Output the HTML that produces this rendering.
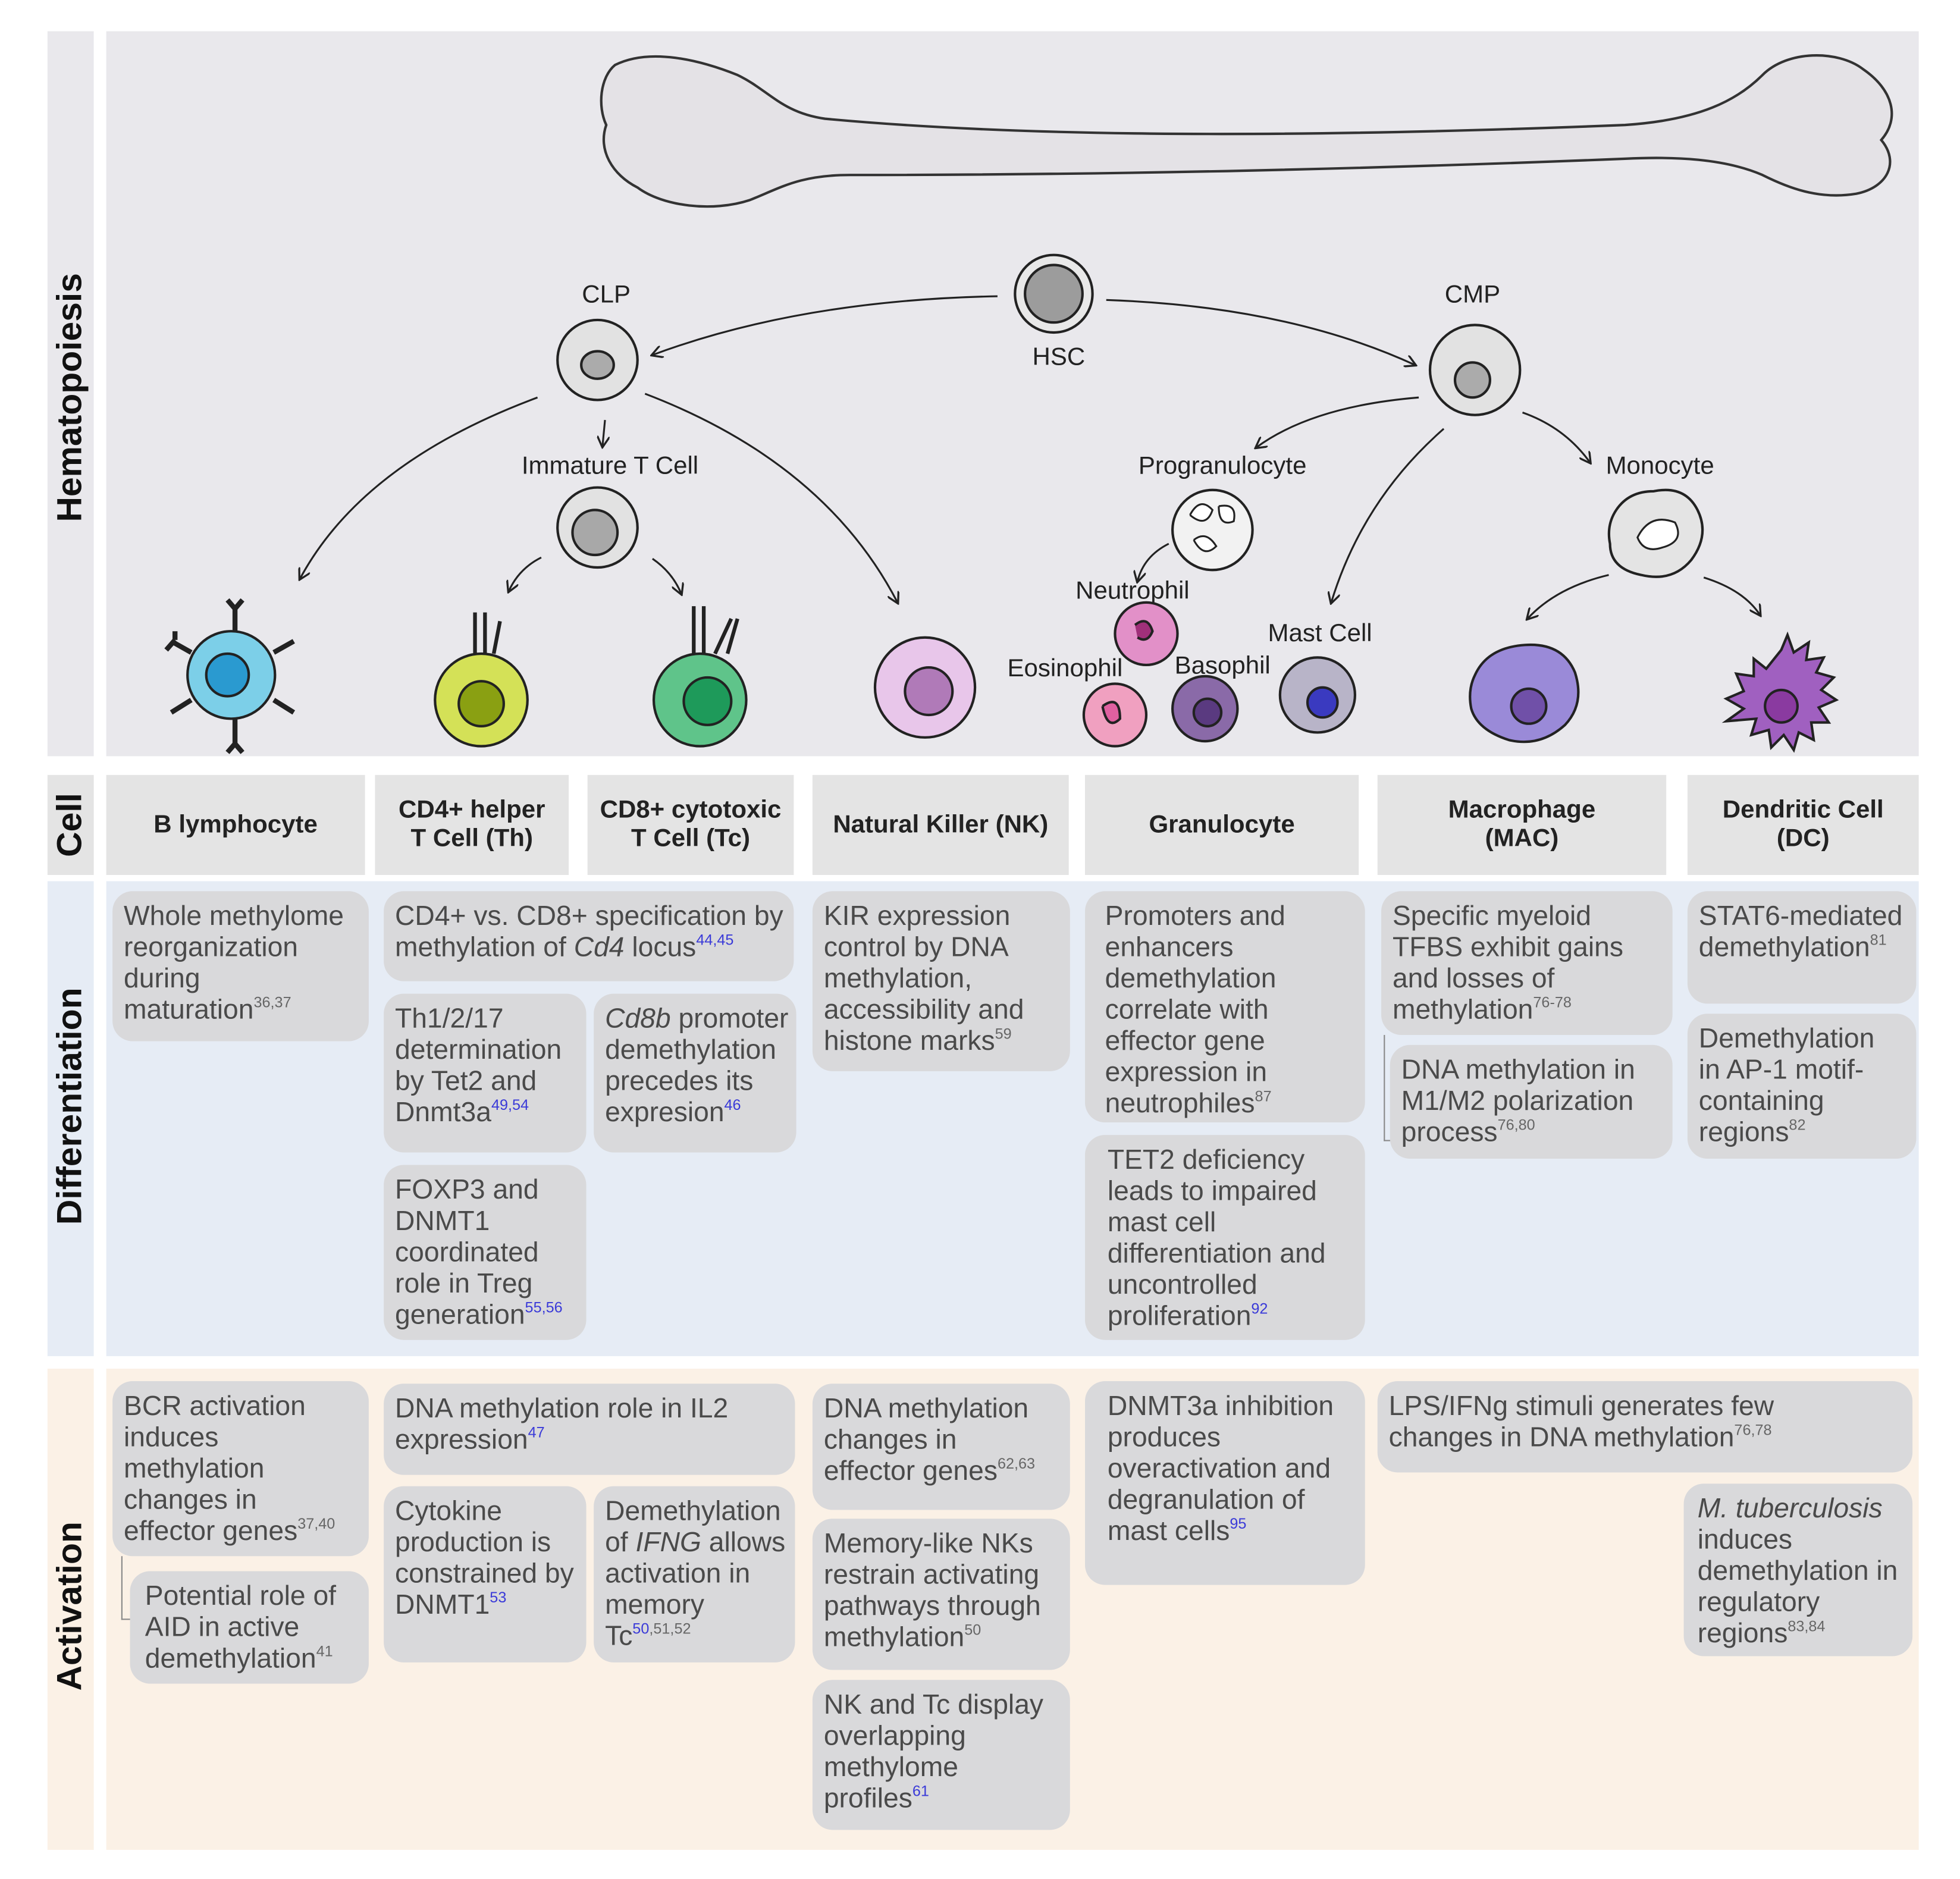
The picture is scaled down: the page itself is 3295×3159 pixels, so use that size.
<!DOCTYPE html>
<html><head><meta charset="utf-8">
<style>
html,body{margin:0;padding:0;background:#fff;}
body{width:3295px;height:3159px;overflow:hidden;position:relative;}
#s{position:absolute;left:0;top:0;width:1568px;height:1503px;transform:scale(2.1014);transform-origin:0 0;font-family:"Liberation Sans",sans-serif;}
.bg{position:absolute;}
.b{position:absolute;background:#d9d9db;border-radius:16px;box-sizing:border-box;padding:7px 9px;font-size:22px;line-height:25px;color:#4a4a4a;white-space:nowrap;}
.b sup{font-size:12px;line-height:0;vertical-align:9px;color:#666;}
.b sup.u{color:#3a3ad8;}
.h{position:absolute;background:#e4e4e4;display:flex;align-items:center;justify-content:center;text-align:center;font-weight:bold;font-size:20px;line-height:23px;color:#222;}
.v{position:absolute;transform:rotate(-90deg);transform-origin:center;font-weight:bold;font-size:28px;color:#111;white-space:nowrap;text-align:center;width:400px;height:36px;line-height:36px;}
.ln{position:absolute;border-left:1.5px solid #888;border-bottom:1.5px solid #888;}
</style></head><body><div id="s">
<!-- backgrounds -->
<div class="bg" style="left:38px;top:25px;width:37px;height:580px;background:#e9e8ec"></div>
<div class="bg" style="left:85px;top:25px;width:1450px;height:580px;background:#e9e8ec"></div>
<div class="bg" style="left:38px;top:620px;width:37px;height:80px;background:#e4e4e4"></div>
<div class="bg" style="left:38px;top:705px;width:37px;height:380px;background:#e6ecf5"></div>
<div class="bg" style="left:85px;top:705px;width:1450px;height:380px;background:#e6ecf5"></div>
<div class="bg" style="left:38px;top:1095px;width:37px;height:385px;background:#fbf1e6"></div>
<div class="bg" style="left:85px;top:1095px;width:1450px;height:385px;background:#fbf1e6"></div>

<div class="v" style="left:-144px;top:300px">Hematopoiesis</div>
<div class="v" style="left:-144px;top:642px">Cell</div>
<div class="v" style="left:-144px;top:867px">Differentiation</div>
<div class="v" style="left:-144px;top:1267px">Activation</div>

<!-- headers -->
<div class="h" style="left:85px;top:620px;width:207px;height:80px">B lymphocyte</div>
<div class="h" style="left:300px;top:620px;width:155px;height:80px">CD4+ helper<br>T Cell (Th)</div>
<div class="h" style="left:470px;top:620px;width:165px;height:80px">CD8+ cytotoxic<br>T Cell (Tc)</div>
<div class="h" style="left:650px;top:620px;width:205px;height:80px">Natural Killer (NK)</div>
<div class="h" style="left:868px;top:620px;width:219px;height:80px">Granulocyte</div>
<div class="h" style="left:1102px;top:620px;width:231px;height:80px">Macrophage<br>(MAC)</div>
<div class="h" style="left:1350px;top:620px;width:185px;height:80px">Dendritic Cell<br>(DC)</div>

<!-- differentiation -->
<div class="b" style="left:90px;top:713px;width:205px;height:120px">Whole methylome<br>reorganization<br>during<br>maturation<sup>36,37</sup></div>
<div class="b" style="left:307px;top:713px;width:328px;height:72px">CD4+ vs. CD8+ specification by<br>methylation of <i>Cd4</i> locus<sup class="u">44,45</sup></div>
<div class="b" style="left:307px;top:795px;width:162px;height:127px">Th1/2/17<br>determination<br>by Tet2 and<br>Dnmt3a<sup class="u">49,54</sup></div>
<div class="b" style="left:475px;top:795px;width:162px;height:127px"><i>Cd8b</i> promoter<br>demethylation<br>precedes its<br>expresion<sup class="u">46</sup></div>
<div class="b" style="left:307px;top:932px;width:162px;height:140px">FOXP3 and<br>DNMT1<br>coordinated<br>role in Treg<br>generation<sup class="u">55,56</sup></div>
<div class="b" style="left:650px;top:713px;width:206px;height:144px">KIR expression<br>control by DNA<br>methylation,<br>accessibility and<br>histone marks<sup>59</sup></div>
<div class="b" style="left:868px;top:713px;width:224px;height:185px;padding-left:16px">Promoters and<br>enhancers<br>demethylation<br>correlate with<br>effector gene<br>expression in<br>neutrophiles<sup>87</sup></div>
<div class="b" style="left:868px;top:908px;width:224px;height:164px;padding-left:18px">TET2 deficiency<br>leads to impaired<br>mast cell<br>differentiation and<br>uncontrolled<br>proliferation<sup class="u">92</sup></div>
<div class="b" style="left:1105px;top:713px;width:233px;height:115px">Specific myeloid<br>TFBS exhibit gains<br>and losses of<br>methylation<sup>76-78</sup></div>
<div class="ln" style="left:1107px;top:828px;width:8px;height:84px"></div>
<div class="b" style="left:1112px;top:836px;width:226px;height:91px">DNA methylation in<br>M1/M2 polarization<br>process<sup>76,80</sup></div>
<div class="b" style="left:1350px;top:713px;width:183px;height:90px">STAT6-mediated<br>demethylation<sup>81</sup></div>
<div class="b" style="left:1350px;top:811px;width:183px;height:116px">Demethylation<br>in AP-1 motif-<br>containing<br>regions<sup>82</sup></div>

<!-- activation -->
<div class="b" style="left:90px;top:1105px;width:205px;height:140px">BCR activation<br>induces<br>methylation<br>changes in<br>effector genes<sup>37,40</sup></div>
<div class="ln" style="left:97px;top:1245px;width:9px;height:50px"></div>
<div class="b" style="left:104px;top:1257px;width:191px;height:90px;padding-left:12px">Potential role of<br>AID in active<br>demethylation<sup>41</sup></div>
<div class="b" style="left:307px;top:1107px;width:329px;height:73px">DNA methylation role in IL2<br>expression<sup class="u">47</sup></div>
<div class="b" style="left:307px;top:1189px;width:162px;height:141px">Cytokine<br>production is<br>constrained by<br>DNMT1<sup class="u">53</sup></div>
<div class="b" style="left:475px;top:1189px;width:161px;height:141px">Demethylation<br>of <i>IFNG</i> allows<br>activation in<br>memory<br>Tc<sup><span style="color:#3a3ad8">50</span>,51,52</sup></div>
<div class="b" style="left:650px;top:1107px;width:206px;height:101px">DNA methylation<br>changes in<br>effector genes<sup>62,63</sup></div>
<div class="b" style="left:650px;top:1215px;width:206px;height:121px">Memory-like NKs<br>restrain activating<br>pathways through<br>methylation<sup>50</sup></div>
<div class="b" style="left:650px;top:1344px;width:206px;height:120px">NK and Tc display<br>overlapping<br>methylome<br>profiles<sup class="u">61</sup></div>
<div class="b" style="left:868px;top:1105px;width:224px;height:163px;padding-left:18px">DNMT3a inhibition<br>produces<br>overactivation and<br>degranulation of<br>mast cells<sup class="u">95</sup></div>
<div class="b" style="left:1102px;top:1105px;width:428px;height:73px">LPS/IFNg stimuli generates few<br>changes in DNA methylation<sup>76,78</sup></div>
<div class="b" style="left:1347px;top:1187px;width:183px;height:138px;padding-left:11px"><i>M. tuberculosis</i><br>induces<br>demethylation in<br>regulatory<br>regions<sup>83,84</sup></div>

<svg style="position:absolute;left:0;top:0" width="1568" height="1503" viewBox="0 0 1568 1503">
<defs><marker id="a" markerWidth="10" markerHeight="10" refX="8" refY="5" orient="auto" markerUnits="userSpaceOnUse"><path d="M0,0 L9,5 L0,10" fill="none" stroke="#222" stroke-width="1.6"/></marker></defs>
<!-- bone -->
<path d="M492,52 C520,38 560,48 590,60 C615,72 625,90 660,95 C800,108 1000,112 1300,100 C1360,96 1390,80 1410,60 C1430,40 1470,40 1490,55 C1515,72 1520,95 1505,112 C1520,130 1510,150 1485,155 C1455,160 1430,150 1410,140 C1380,127 1340,125 1300,127 C1100,135 900,140 680,140 C640,140 625,150 600,160 C570,170 530,165 510,150 C490,140 478,120 485,100 C478,85 480,62 492,52 Z" fill="#e4e2e6" stroke="#333" stroke-width="2"/>
<g fill="none" stroke="#222" stroke-width="1.5" marker-end="url(#a)">
<path d="M798,237 Q640,240 522,284"/>
<path d="M885,240 Q1030,245 1132,292"/>
<path d="M430,318 Q290,370 240,463"/>
<path d="M484,336 L482,357"/>
<path d="M516,315 Q660,370 718,482"/>
<path d="M433,446 Q415,455 407,473"/>
<path d="M522,447 Q538,458 545,475"/>
<path d="M1135,318 Q1050,325 1005,358"/>
<path d="M1155,343 Q1090,400 1065,482"/>
<path d="M1218,330 Q1252,342 1272,370"/>
<path d="M935,435 Q915,445 910,465"/>
<path d="M1287,460 Q1245,470 1222,495"/>
<path d="M1363,462 Q1395,472 1408,492"/>
</g>
<g font-family="Liberation Sans,sans-serif" font-size="20" fill="#222" text-anchor="middle">
<text x="485" y="242">CLP</text><text x="847" y="292">HSC</text><text x="1178" y="242">CMP</text>
<text x="488" y="379">Immature T Cell</text><text x="978" y="379">Progranulocyte</text><text x="1328" y="379">Monocyte</text>
<text x="906" y="479">Neutrophil</text><text x="852" y="541">Eosinophil</text><text x="978" y="539">Basophil</text><text x="1056" y="513">Mast Cell</text>
</g>
<g stroke="#222" stroke-width="2">
<circle cx="843" cy="235" r="31" fill="#e8e8e8"/><circle cx="843" cy="235" r="23" fill="#9c9c9c"/>
<circle cx="478" cy="288" r="32" fill="#e2e2e2"/><ellipse cx="478" cy="292" rx="13" ry="11" fill="#ababab"/>
<circle cx="1180" cy="296" r="36" fill="#e2e2e2"/><circle cx="1178" cy="304" r="14" fill="#ababab"/>
<circle cx="478" cy="422" r="32" fill="#e2e2e2"/><circle cx="476" cy="426" r="18" fill="#a8a8a8"/>
<circle cx="970" cy="424" r="32" fill="#f2f2f2"/><path d="M952,412 q8,-15 18,-4 q-5,15 -18,4 M975,405 q15,-3 12,12 q-12,5 -12,-12 M955,432 q10,-8 18,5 q-10,10 -18,-5" fill="#fff" stroke-width="1.5"/>
<path d="M1293,408 q10,-15 30,-15 q25,-5 35,15 q10,20 -5,40 q-15,18 -40,12 q-25,-5 -25,-25 q-3,-15 5,-27 Z" fill="#e4e4e4"/><path d="M1310,430 q10,-20 30,-12 q8,15 -10,20 q-15,5 -20,-8Z" fill="#fff" stroke-width="1.5"/>
<circle cx="185" cy="540" r="35" fill="#7ccfe8"/><circle cx="182" cy="540" r="17" fill="#2a9ad0"/>
<g stroke-width="4" fill="none"><path d="M188,505 V485 M182,480 L188,487 L194,480"/><path d="M188,575 V597 M182,602 L188,595 L194,602"/><path d="M153,522 L137,513 M133,520 L140,512 M140,505 L140,512"/><path d="M219,522 L235,513"/><path d="M153,560 L137,570"/><path d="M219,560 L235,570"/></g>
<circle cx="385" cy="560" r="37" fill="#d4e157"/><circle cx="385" cy="563" r="18" fill="#8aa012"/>
<path d="M380,523 V490 M388,523 V490 M395,523 L400,497" stroke-width="3"/>
<circle cx="560" cy="560" r="37" fill="#5fc48a"/><circle cx="566" cy="561" r="19" fill="#1e9a5a"/>
<path d="M555,523 V485 M563,523 V485 M572,523 L585,495 M582,523 L590,495" stroke-width="3"/>
<circle cx="740" cy="550" r="40" fill="#e8c6ea"/><circle cx="743" cy="553" r="19" fill="#b07ab8"/>
<circle cx="917" cy="507" r="25" fill="#e290c8"/><path d="M908,500 q10,-8 14,5 q-4,10 -12,5" fill="#a0307a"/>
<circle cx="892" cy="572" r="25" fill="#f0a0c0"/><path d="M882,565 q14,-10 14,10 q-10,10 -14,-10" fill="#e060a0"/>
<circle cx="964" cy="567" r="26" fill="#8a6aa8"/><circle cx="966" cy="570" r="11" fill="#5a3a80"/>
<circle cx="1054" cy="556" r="30" fill="#b8b4c8"/><circle cx="1058" cy="562" r="12" fill="#3a3ac0"/>
<path d="M1180,540 q10,-22 40,-24 q30,-2 40,22 q8,25 -8,42 q-20,18 -45,12 q-25,-8 -30,-25 q-3,-15 3,-27Z" fill="#9a8ad8"/><circle cx="1223" cy="565" r="14" fill="#7050a8"/>
<path d="M1425,520 l5,-12 l5,14 l12,-8 l-2,14 l14,-2 l-6,12 l14,4 l-10,10 l12,8 l-14,6 l8,12 l-14,0 l2,14 l-12,-6 l-4,14 l-8,-12 l-10,10 l-2,-14 l-14,4 l4,-13 l-24,2 l14,-10 l-14,-8 l14,-6 l-6,-14 l14,2 l0,-14 l10,8 Z" fill="#a060c0"/><circle cx="1425" cy="565" r="13" fill="#8a3aa0"/>
</g>
</svg>
</div></body></html>
